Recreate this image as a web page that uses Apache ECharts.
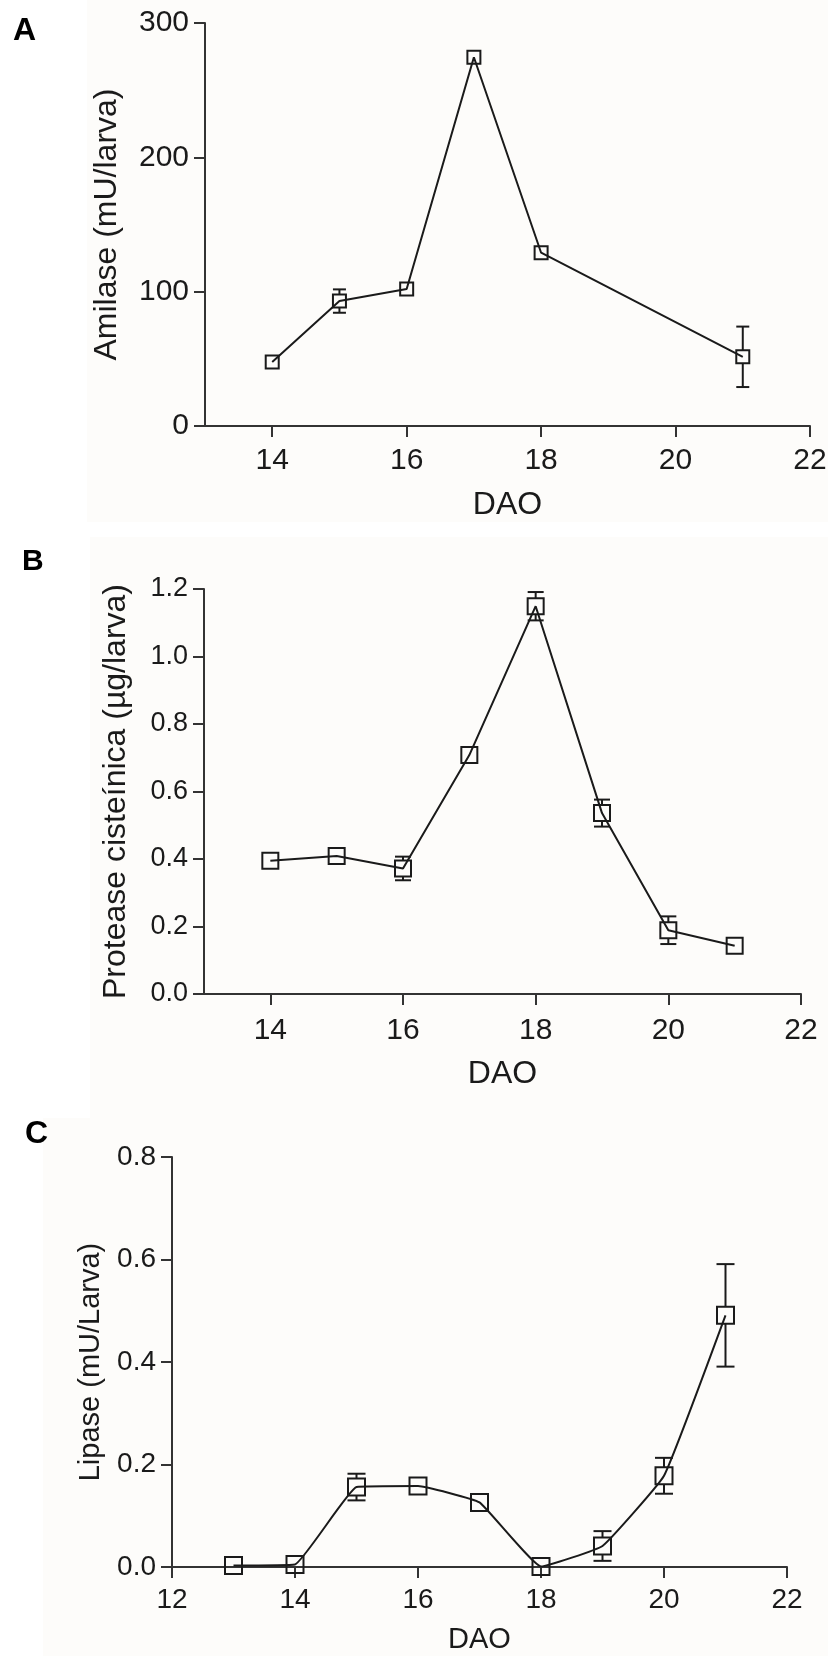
<!DOCTYPE html>
<html>
<head>
<meta charset="utf-8">
<script src="https://cdn.jsdelivr.net/npm/echarts@6/dist/echarts.min.js"></script>
<style>
  html, body { margin: 0; padding: 0; background: #fff; }
  #chart { width: 832px; height: 1656px; }
</style>
</head>
<body>
<div id="chart"></div>
<script>
// panel A - amilase
const daysA = [14, 15, 16, 17, 18, 21];
const amilase = [47.7, 93, 102, 274.5, 129, 51.5];
const amilaseErr = [1.5, 8.7, 2.5, 0, 0, 22.5];
const ticksA = [14, 16, 18, 20, 22];

// panel B - protease cisteinica
const daysB = [14, 15, 16, 17, 18, 19, 20, 21];
const protease = [0.395, 0.409, 0.372, 0.708, 1.149, 0.536, 0.189, 0.143];
const proteaseErr = [0.01, 0.01, 0.035, 0.01, 0.042, 0.04, 0.041, 0.01];
const ticksB = [14, 16, 18, 20, 22];

// panel C - lipase
const daysC = [13, 14, 15, 16, 17, 18, 19, 20, 21];
const lipase = [0.003, 0.005, 0.156, 0.158, 0.126, 0.001, 0.041, 0.178, 0.491];
const lipaseErr = [0.002, 0.003, 0.026, 0.008, 0.01, 0.002, 0.029, 0.035, 0.1];

const FONT = '"Liberation Sans", Arial, sans-serif';
const INK = '#1a1a1a';
const AXIS = '#333';

const zip = (xs, ys) => xs.map((x, i) => [x, ys[i]]);
const zip3 = (xs, ys, es) => xs.map((x, i) => [x, ys[i], es[i]]);

function xAxisCfg(idx, min, max, ticks, labelSize, nameSize, nameGap, labelMargin) {
    const ax = {
        type: 'value', gridIndex: idx, min: min, max: max,
        name: 'DAO', nameLocation: 'middle', nameGap: nameGap,
        nameTextStyle: { fontFamily: FONT, fontSize: nameSize, color: INK },
        splitLine: { show: false },
        axisLine: { onZero: false, lineStyle: { color: AXIS, width: 2 } },
        axisTick: { length: 11, lineStyle: { color: AXIS, width: 2 } },
        axisLabel: { fontFamily: FONT, fontSize: labelSize, color: INK, margin: labelMargin }
    };
    if (ticks) {
        ax.axisTick.customValues = ticks;
        ax.axisLabel.customValues = ticks;
    } else {
        ax.interval = 2;
    }
    return ax;
}

function yAxisCfg(idx, max, interval, name, labelSize, nameSize, nameGap, decimals) {
    return {
        type: 'value', gridIndex: idx, min: 0, max: max, interval: interval,
        name: name, nameLocation: 'middle', nameGap: nameGap,
        nameTextStyle: { fontFamily: FONT, fontSize: nameSize, color: INK },
        splitLine: { show: false },
        axisLine: { show: true, lineStyle: { color: AXIS, width: 2 } },
        axisTick: { show: true, length: 11, lineStyle: { color: AXIS, width: 2 } },
        axisLabel: {
            fontFamily: FONT, fontSize: labelSize, color: INK, margin: 16,
            formatter: v => v.toFixed(decimals)
        }
    };
}

function lineSeries(idx, data, size, smooth) {
    return {
        type: 'line', xAxisIndex: idx, yAxisIndex: idx, data: data,
        smooth: smooth, symbol: 'rect', symbolSize: size, z: 3,
        lineStyle: { color: INK, width: 2 },
        itemStyle: { color: 'rgba(0,0,0,0)', borderColor: INK, borderWidth: 2 }
    };
}

// error bars, drawn outside the marker box
function errSeries(idx, data, size, cap) {
    return {
        type: 'custom', xAxisIndex: idx, yAxisIndex: idx, data: data, z: 2,
        renderItem: function (params, api) {
            const x = api.value(0), y = api.value(1), e = api.value(2);
            const c = api.coord([x, y]);
            const hi = api.coord([x, y + e]);
            const lo = api.coord([x, y - e]);
            const h = size / 2;
            const st = { stroke: INK, lineWidth: 2 };
            const kids = [];
            if (c[1] - hi[1] > h + 1) {
                kids.push({ type: 'line', shape: { x1: c[0], y1: hi[1], x2: c[0], y2: c[1] - h }, style: st });
                kids.push({ type: 'line', shape: { x1: c[0] - cap / 2, y1: hi[1], x2: c[0] + cap / 2, y2: hi[1] }, style: st });
            }
            if (lo[1] - c[1] > h + 1) {
                kids.push({ type: 'line', shape: { x1: c[0], y1: c[1] + h, x2: c[0], y2: lo[1] }, style: st });
                kids.push({ type: 'line', shape: { x1: c[0] - cap / 2, y1: lo[1], x2: c[0] + cap / 2, y2: lo[1] }, style: st });
            }
            return { type: 'group', children: kids };
        }
    };
}

const chart = echarts.init(document.getElementById('chart'));
chart.setOption({
    animation: false,
    backgroundColor: '#fff',
    graphic: [
        { type: 'rect', shape: { x: 87, y: 0, width: 741, height: 522 }, style: { fill: '#fdfcfa' }, z: -10 },
        { type: 'rect', shape: { x: 90, y: 537, width: 738, height: 581 }, style: { fill: '#fdfcfa' }, z: -10 },
        { type: 'rect', shape: { x: 43, y: 1118, width: 785, height: 538 }, style: { fill: '#fdfcfa' }, z: -10 },
        { type: 'text', left: 13, top: 15, style: { text: 'A', font: 'bold 32px ' + FONT, fill: '#000' } },
        { type: 'text', left: 22, top: 547, style: { text: 'B', font: 'bold 30px ' + FONT, fill: '#000' } },
        { type: 'text', left: 25, top: 1118, style: { text: 'C', font: 'bold 32px ' + FONT, fill: '#000' } }
    ],
    grid: [
        { left: 205, top: 23, width: 605, height: 403 },
        { left: 204, top: 589, width: 597, height: 405 },
        { left: 172, top: 1157, width: 615, height: 410 }
    ],
    xAxis: [
        xAxisCfg(0, 13, 22, ticksA, 30, 32, 63, 20),
        xAxisCfg(1, 13, 22, ticksB, 30, 32, 64, 22),
        xAxisCfg(2, 12, 22, null, 28, 29, 58, 19)
    ],
    yAxis: [
        yAxisCfg(0, 300, 100, 'Amilase (mU/larva)', 30, 32, 82, 0),
        yAxisCfg(1, 1.2, 0.2, 'Protease cisteínica (µg/larva)', 27, 32, 72, 1),
        yAxisCfg(2, 0.8, 0.2, 'Lipase (mU/Larva)', 28, 29, 67, 1)
    ],
    series: [
        errSeries(0, zip3(daysA, amilase, amilaseErr), 13, 13),
        lineSeries(0, zip(daysA, amilase), 13, false),
        errSeries(1, zip3(daysB, protease, proteaseErr), 16, 16),
        lineSeries(1, zip(daysB, protease), 16, false),
        errSeries(2, zip3(daysC, lipase, lipaseErr), 17, 18),
        lineSeries(2, zip(daysC, lipase), 17, 0.1)
    ]
});
</script>
</body>
</html>
